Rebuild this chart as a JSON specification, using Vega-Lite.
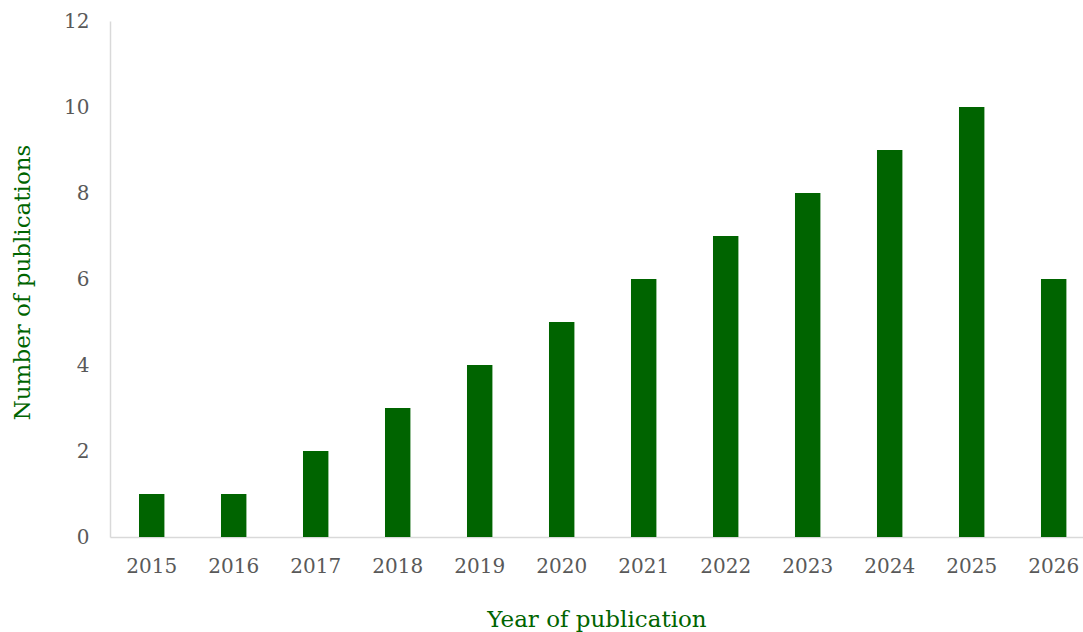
{
  "$schema": "https://vega.github.io/schema/vega-lite/v6.json",
  "autosize": "none",
  "width": 973,
  "height": 516,
  "padding": {"left": 110, "top": 21, "right": 0, "bottom": 95},
  "background": "white",
  "config": {"view": {"stroke": null}, "font": "DejaVu Serif"},
  "data": {"values": [
    {"year": "2015", "count": 1},
    {"year": "2016", "count": 1},
    {"year": "2017", "count": 2},
    {"year": "2018", "count": 3},
    {"year": "2019", "count": 4},
    {"year": "2020", "count": 5},
    {"year": "2021", "count": 6},
    {"year": "2022", "count": 7},
    {"year": "2023", "count": 8},
    {"year": "2024", "count": 9},
    {"year": "2025", "count": 10},
    {"year": "2026", "count": 6}
  ]},
  "mark": {"type": "bar", "color": "#006400"},
  "encoding": {
    "x": {
      "field": "year", "type": "ordinal",
      "scale": {"paddingInner": 0.69, "paddingOuter": 0.278, "align": 0.636},
      "axis": {
        "title": "Year of publication",
        "labelAngle": 0, "labelFont": "DejaVu Serif", "labelFontSize": 20, "labelColor": "#595959",
        "labelPadding": 19, "ticks": false, "domainColor": "#d9d9d9", "domainWidth": 1.5,
        "titleFont": "DejaVu Serif", "titleFontSize": 23, "titleFontWeight": "normal", "titleColor": "#006400",
        "titleY": 89, "titleBaseline": "alphabetic"
      }
    },
    "y": {
      "field": "count", "type": "quantitative",
      "scale": {"domain": [0, 12]},
      "axis": {
        "title": "Number of publications",
        "values": [0, 2, 4, 6, 8, 10, 12], "grid": false, "ticks": false,
        "labelFont": "DejaVu Serif", "labelFontSize": 20, "labelColor": "#595959", "labelPadding": 21,
        "domainColor": "#d9d9d9", "domainWidth": 1.5,
        "titleFont": "DejaVu Serif", "titleFontSize": 23, "titleFontWeight": "normal", "titleColor": "#006400",
        "titleX": -88, "titleY": 261, "titleAngle": -90, "titleAlign": "center", "titleBaseline": "middle"
      }
    }
  }
}
